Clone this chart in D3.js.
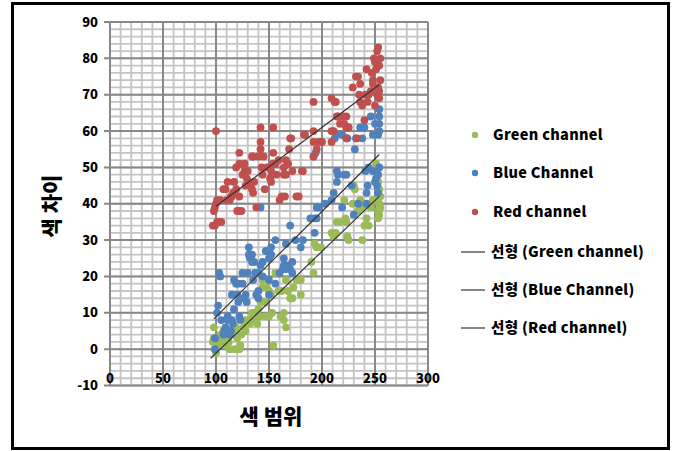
<!DOCTYPE html>
<html>
<head>
<meta charset="utf-8">
<script src="https://cdn.jsdelivr.net/npm/d3@7"></script>
<style>
  body { margin: 0; background: #fff; }
  text { font-family: "Noto Sans CJK KR", "Noto Sans", sans-serif; font-weight: 900; fill: #000; }
</style>
</head>
<body>
<div class="chart"></div>
<script>
// tick labels
var xTicks = [0, 50, 100, 150, 200, 250, 300];
var yTicks = [-10, 0, 10, 20, 30, 40, 50, 60, 70, 80, 90];

// series (x = 색 범위, y = 색 차이)
var greenPoints = [[97,2],[98,6],[98,3],[99,0],[100,-1],[101,2],[102,1],[103,3],[104,4],[105,2],[107,5],[108,3],[110,1],[112,2],[113,0],[115,5],[117,4],[118,0],[119,6],[120,3],[122,0],[123,1],[124,4],[126,6],[128,5],[128,8],[130,7],[132,7],[134,9],[134,10],[136,8],[137,10],[139,7],[140,11],[141,9],[142,13],[144,19],[144,17],[146,13],[147,9],[148,17],[150,16],[150,9],[152,15],[153,10],[154,1],[156,21],[159,16],[161,9],[162,16],[164,10],[164,8],[166,6],[166,19],[168,16],[170,14],[172,14],[173,17],[176,19],[180,19],[180,15],[190,24],[192,21],[193,29],[195,28],[199,28],[209,32],[211,31],[213,32],[214,35],[217,35],[221,41],[222,36],[223,35],[224,31],[225,30],[229,40],[230,45],[231,44],[234,38],[236,41],[238,39],[238,30],[240,34],[242,36],[244,34],[246,39],[248,41],[250,41],[251,51],[252,49],[253,46],[253,38],[254,37],[254,40],[255,42],[254,44],[253,36],[255,39]];

var bluePoints = [[99,0],[99,3],[101,10],[102,12],[103,21],[104,20],[105,8],[107,4],[108,5],[109,6],[111,9],[111,8],[113,4],[114,5],[115,15],[115,8],[116,7],[117,11],[117,19],[119,18],[120,15],[121,13],[121,18],[122,9],[123,8],[125,21],[125,18],[126,14],[128,15],[129,13],[130,21],[131,28],[131,26],[132,25],[134,24],[134,26],[135,19],[136,24],[137,21],[138,15],[140,16],[140,14],[140,21],[142,39],[142,23],[144,20],[144,24],[147,27],[150,25],[150,19],[150,15],[152,28],[152,26],[156,30],[156,18],[160,21],[163,22],[164,25],[164,23],[165,22],[167,23],[166,29],[170,34],[170,22],[172,24],[172,21],[175,30],[180,28],[182,30],[189,36],[193,32],[193,36],[195,36],[195,39],[197,39],[203,40],[209,41],[211,43],[214,49],[214,46],[215,48],[219,39],[221,48],[223,48],[228,45],[230,37],[231,55],[234,40],[236,61],[238,58],[240,61],[241,49],[242,43],[242,40],[243,45],[244,50],[246,64],[248,49],[248,59],[250,62],[250,46],[251,47],[252,45],[253,48],[253,43],[254,60],[254,62],[254,64],[254,66],[254,50],[253,59],[225,61],[224,58],[219,59],[213,59],[212,58],[194,54],[192,53],[232,58],[223,58]];

var redPoints = [[97,34],[99,34],[101,35],[103,35],[105,35],[98,38],[99,39],[100,40],[101,41],[104,41],[100,60],[107,44],[109,44],[110,41],[111,46],[113,41],[114,42],[115,42],[116,43],[117,46],[119,44],[119,50],[120,38],[122,38],[122,42],[122,51],[122,54],[124,38],[125,48],[127,49],[127,51],[128,45],[129,47],[130,49],[131,46],[132,45],[134,53],[134,44],[135,43],[135,53],[136,46],[138,39],[140,53],[142,61],[142,57],[142,55],[143,50],[144,48],[145,53],[146,44],[148,50],[150,50],[151,47],[152,46],[152,49],[154,61],[154,54],[154,51],[156,51],[157,48],[159,52],[160,41],[162,42],[164,48],[164,50],[165,42],[166,52],[166,48],[168,51],[169,55],[170,58],[171,58],[172,49],[176,42],[178,42],[181,49],[182,49],[183,59],[184,59],[192,60],[192,57],[192,53],[192,68],[195,55],[197,57],[199,57],[200,57],[209,57],[209,60],[209,69],[211,60],[212,68],[213,68],[214,64],[215,64],[217,62],[220,64],[221,62],[223,61],[223,64],[225,61],[223,58],[229,72],[232,75],[233,58],[234,75],[236,73],[235,70],[236,68],[238,67],[240,63],[241,70],[242,77],[243,68],[244,70],[246,71],[247,76],[248,74],[248,73],[249,80],[250,79],[250,67],[251,77],[252,82],[253,83],[253,72],[254,78],[252,70],[254,69],[254,71],[255,80],[255,74]];

// linear trendlines: slope, intercept, x range
var seriesNames = ["Green channel", "Blue Channel", "Red channel"];
var seriesColors = ["#9bbb59", "#4f81bd", "#c0504d"];
var trendSlope = [0.280, 0.290, 0.217];
var trendIntercept = [-29.1, -20.1, 17.6];
var trendFrom = [95, 98, 100];
var trendTo = [254, 254, 254];

var svgWidth = 676;
var svgHeight = 451;

var svg = d3.select(".chart")
    .append("svg")
    .attr("width", svgWidth)
    .attr("height", svgHeight);

// outer frame
svg.append("rect")
    .attr("x", 12.5)
    .attr("y", 3.5)
    .attr("width", 656)
    .attr("height", 445)
    .attr("fill", "#fff")
    .attr("stroke", "#000")
    .attr("stroke-width", 3);

var x = d3.scaleLinear().domain([0, 300]).range([110, 428]);
var y = d3.scaleLinear().domain([-10, 90]).range([385.5, 22]);

var grid = svg.append("g");

// minor grid
grid.selectAll(".vminor")
    .data(d3.range(0, 301, 10))
    .enter()
    .append("line")
    .attr("x1", d => x(d)).attr("x2", d => x(d))
    .attr("y1", y(90)).attr("y2", y(-10))
    .attr("stroke", "#c4c4c4")
    .attr("stroke-width", 1.8);

grid.selectAll(".hminor")
    .data(d3.range(-10, 91, 2))
    .enter()
    .append("line")
    .attr("x1", x(0)).attr("x2", x(300))
    .attr("y1", d => y(d)).attr("y2", d => y(d))
    .attr("stroke", "#c4c4c4")
    .attr("stroke-width", 1.8);

// major grid
grid.selectAll(".vmajor")
    .data(xTicks)
    .enter()
    .append("line")
    .attr("x1", d => x(d)).attr("x2", d => x(d))
    .attr("y1", y(90)).attr("y2", y(-10))
    .attr("stroke", "#888")
    .attr("stroke-width", 2);

grid.selectAll(".hmajor")
    .data(yTicks)
    .enter()
    .append("line")
    .attr("x1", x(0) - 6).attr("x2", x(300))
    .attr("y1", d => y(d)).attr("y2", d => y(d))
    .attr("stroke", "#888")
    .attr("stroke-width", 2);

// tick labels
svg.selectAll(".ylab")
    .data(yTicks)
    .enter()
    .append("text")
    .attr("x", 98)
    .attr("y", d => y(d))
    .attr("dy", "0.36em")
    .attr("text-anchor", "end")
    .attr("font-size", "13px")
    .text(d => d);

svg.selectAll(".xlab")
    .data(xTicks)
    .enter()
    .append("text")
    .attr("x", d => x(d))
    .attr("y", 378)
    .attr("dy", "0.36em")
    .attr("text-anchor", "middle")
    .attr("font-size", "13px")
    .text(d => d);

// points
var allSeries = [greenPoints, bluePoints, redPoints];
allSeries.forEach(function(pts, i) {
    svg.append("g")
        .selectAll("circle")
        .data(pts)
        .enter()
        .append("circle")
        .attr("cx", d => x(d[0]))
        .attr("cy", d => y(d[1]))
        .attr("r", 3.9)
        .attr("fill", seriesColors[i]);
});

// trendlines
seriesNames.forEach(function(name, i) {
    svg.append("line")
        .attr("x1", x(trendFrom[i]))
        .attr("y1", y(trendSlope[i] * trendFrom[i] + trendIntercept[i]))
        .attr("x2", x(trendTo[i]))
        .attr("y2", y(trendSlope[i] * trendTo[i] + trendIntercept[i]))
        .attr("stroke", "#333")
        .attr("stroke-width", 1.2);
});

// axis titles
svg.append("text")
    .attr("transform", "translate(52, 206) rotate(-90)")
    .attr("text-anchor", "middle")
    .attr("dy", "0.35em")
    .attr("font-size", "21px")
    .text("색 차이");

svg.append("text")
    .attr("x", 271)
    .attr("y", 417)
    .attr("dy", "0.35em")
    .attr("text-anchor", "middle")
    .attr("font-size", "21px")
    .text("색 범위");

// legend
var legend = svg.append("g");
var legendY = [135, 173, 212, 252, 290, 328];

seriesNames.forEach(function(name, i) {
    legend.append("circle")
        .attr("cx", 475)
        .attr("cy", legendY[i])
        .attr("r", 3.2)
        .attr("fill", seriesColors[i]);
    legend.append("text")
        .attr("x", 493)
        .attr("y", legendY[i])
        .attr("dy", "0.36em")
        .attr("font-size", "14.5px")
        .attr("letter-spacing", "0.3px")
        .text(name);
});

seriesNames.forEach(function(name, i) {
    var ly = legendY[i + 3];
    legend.append("line")
        .attr("x1", 461).attr("x2", 485)
        .attr("y1", ly).attr("y2", ly)
        .attr("stroke", "#333")
        .attr("stroke-width", 1.2);
    legend.append("text")
        .attr("x", 491)
        .attr("y", ly)
        .attr("dy", "0.36em")
        .attr("font-size", "14.5px")
        .attr("letter-spacing", "0.3px")
        .text("선형 (" + name + ")");
});
</script>
</body>
</html>
